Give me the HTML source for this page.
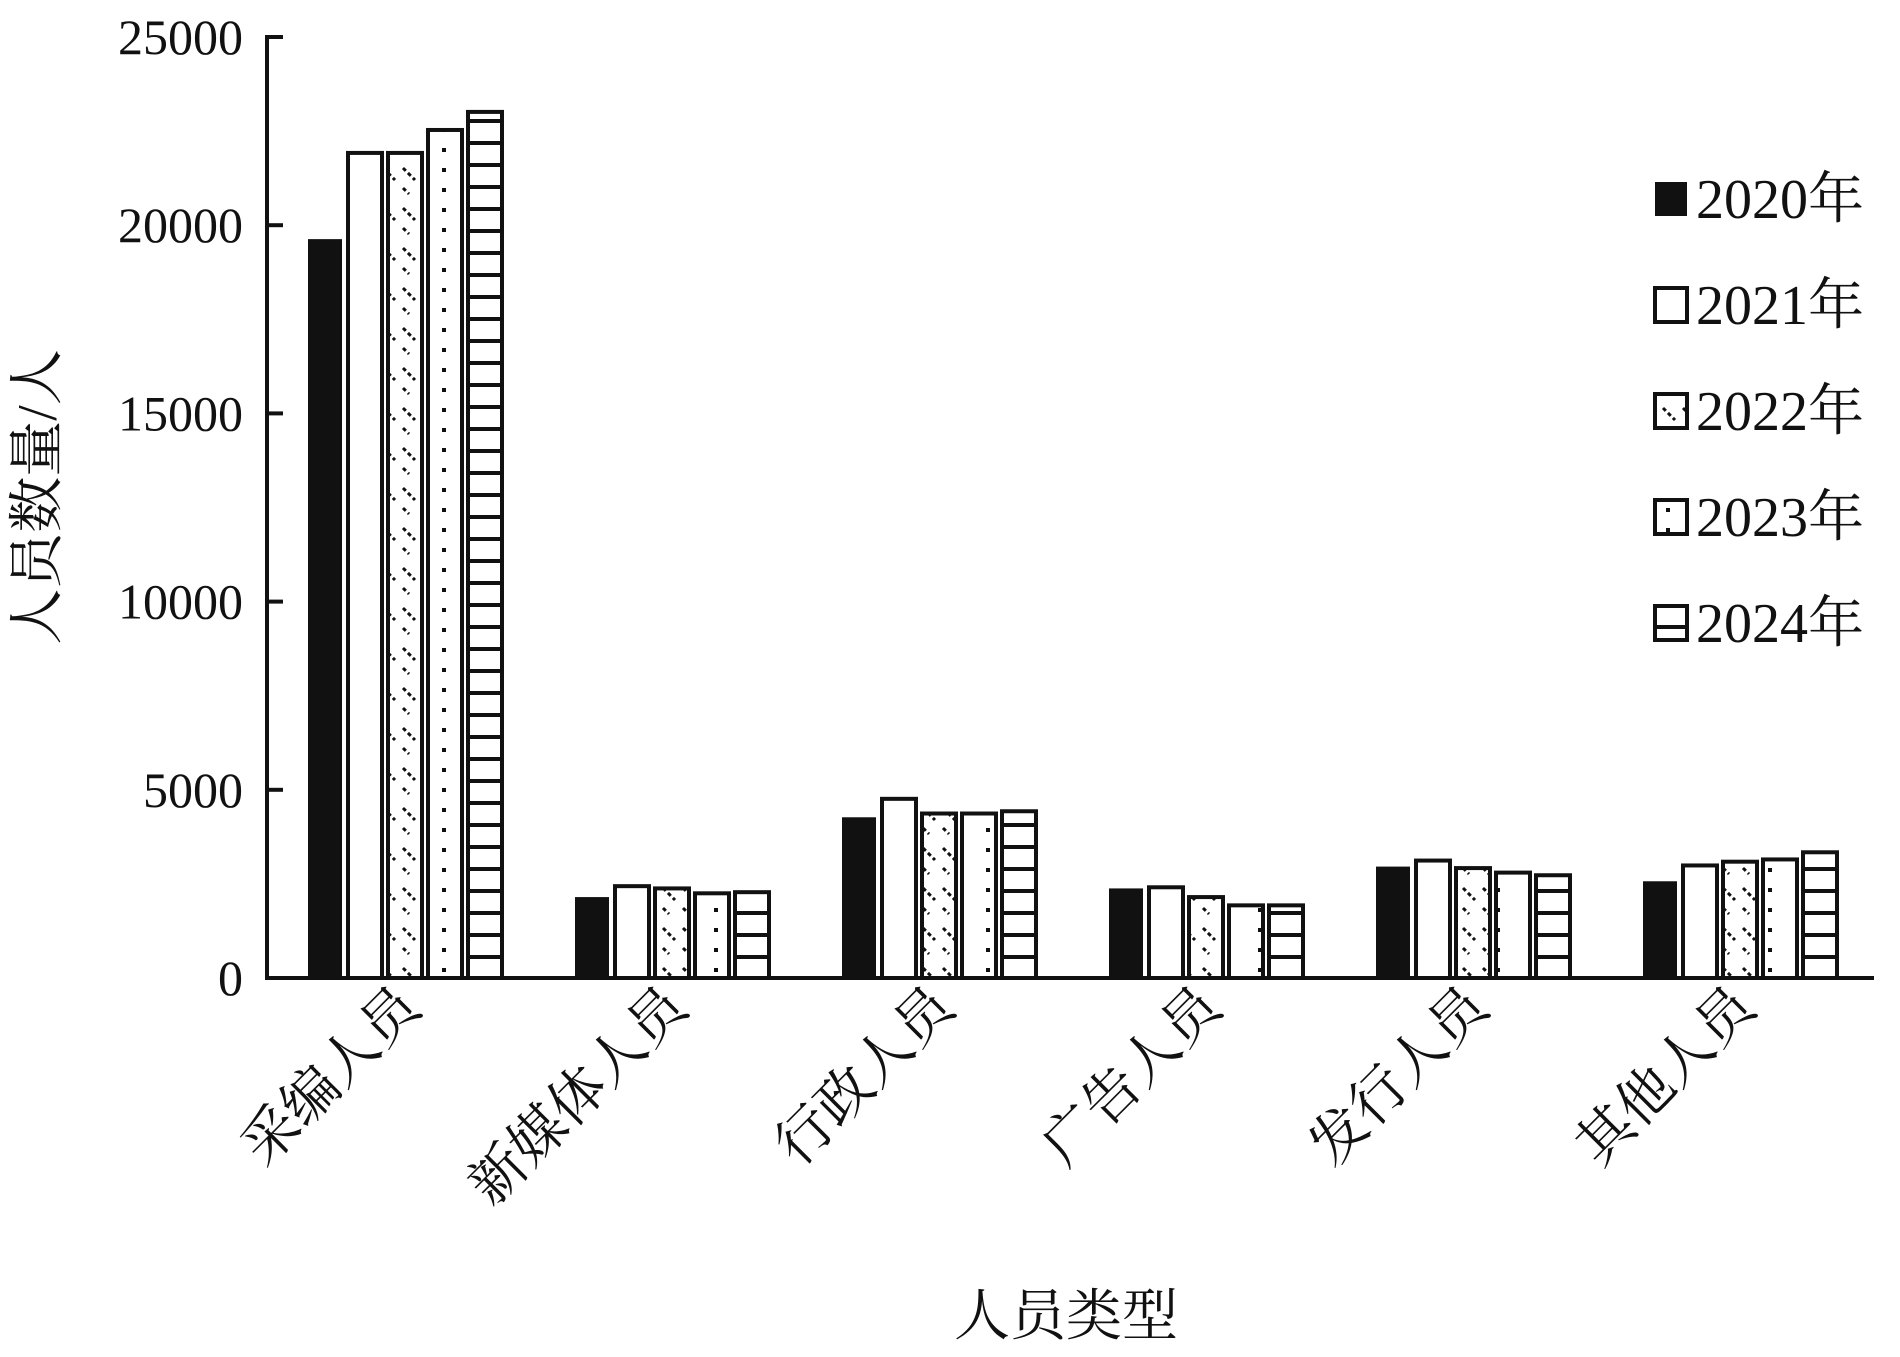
<!DOCTYPE html>
<html><head><meta charset="utf-8"><style>
body{margin:0;background:#fff}
text{font-family:"Liberation Serif","Noto Serif CJK SC",serif;fill:#111}
</style></head><body>
<svg id="chart" width="1900" height="1352" viewBox="0 0 1900 1352" xmlns="http://www.w3.org/2000/svg">
<defs>
<pattern id="p2022" patternUnits="userSpaceOnUse" width="20" height="40"><rect width="20" height="40" fill="#fff"/><path d="M3 8 L15 20 M3 28 L9 34" stroke="#111" stroke-width="3" stroke-dasharray="4 3"/></pattern>
<pattern id="p2023" patternUnits="userSpaceOnUse" width="34" height="20"><rect width="34" height="20" fill="#fff"/><rect x="0" y="8" width="4" height="4" fill="#111"/></pattern>
<pattern id="p2024" patternUnits="userSpaceOnUse" width="10" height="22"><rect width="10" height="22" fill="#fff"/><rect y="9" width="10" height="4" fill="#111"/></pattern>
</defs>
<g id="plot"></g>
</svg>
<script>
const categories=["采编人员","新媒体人员","行政人员","广告人员","发行人员","其他人员"];
const years=["2020年","2021年","2022年","2023年","2024年"];
const s2020=[19630,2150,4270,2380,2960,2570];
const s2021=[21920,2440,4760,2410,3120,2990];
const s2022=[21920,2380,4370,2150,2920,3090];
const s2023=[22530,2250,4370,1930,2800,3150];
const s2024=[23010,2280,4430,1930,2730,3340];
const series=[s2020,s2021,s2022,s2023,s2024];
const yTicks=[0,5000,10000,15000,20000,25000];
const fills=["#111","#fff","url(#p2022)","url(#p2023)","url(#p2024)"];
const NS="http://www.w3.org/2000/svg";
const g=document.getElementById('plot');
const X0=267,Y0=978,YT=37,XEND=1874;
const y=v=>Y0-(v/25000)*(Y0-YT);
const gx=i=>403+i*267;
function mk(t,a){const e=document.createElementNS(NS,t);for(const k in a)e.setAttribute(k,a[k]);g.appendChild(e);return e;}
// bars
series.forEach((s,si)=>{s.forEach((v,ci)=>{
 const x=gx(ci)-97+si*40+2;
 const r=mk('rect',{x:x,y:y(v),width:34,height:Y0-y(v),fill:fills[si],stroke:'#111','stroke-width':si===0?0:4});
 
 
});});
// axes
const ya=mk('line',{x1:X0,y1:YT-2,x2:X0,y2:Y0,stroke:'#111','stroke-width':4});


const xa=mk('line',{x1:X0-2,y1:Y0,x2:XEND,y2:Y0,stroke:'#111','stroke-width':4});


yTicks.forEach(t=>{
 const tk=mk('line',{x1:X0,y1:y(t),x2:X0+16,y2:y(t),stroke:'#111','stroke-width':4});
 
 
 const tl=mk('text',{x:243,y:y(t)+17,'text-anchor':'end','font-size':50});
 tl.textContent=t;
 
 
});
categories.forEach((c,i)=>{
 const cx=gx(i)+20,cy=1010;
 const t=mk('text',{x:cx,y:cy,'text-anchor':'end','font-size':56,transform:`rotate(-45 ${cx} ${cy})`});
 t.textContent=c;
 
 
});
const xt=mk('text',{x:1066,y:1335,'text-anchor':'middle','font-size':56});
xt.textContent='人员类型';


const yt=mk('text',{x:56,y:497,'text-anchor':'middle','font-size':56,transform:'rotate(-90 56 497)'});
yt.textContent='人员数量/人';


years.forEach((yr,i)=>{
 const ly=198+i*106;
 const m=mk('rect',{x:1655,y:ly-16,width:32,height:34,fill:fills[i],stroke:'#111','stroke-width':i===0?0:4});
 
 
 const t=mk('text',{x:1696,y:ly+20,'font-size':56});
 t.textContent=yr;
 
 
});
</script>
</body></html>
